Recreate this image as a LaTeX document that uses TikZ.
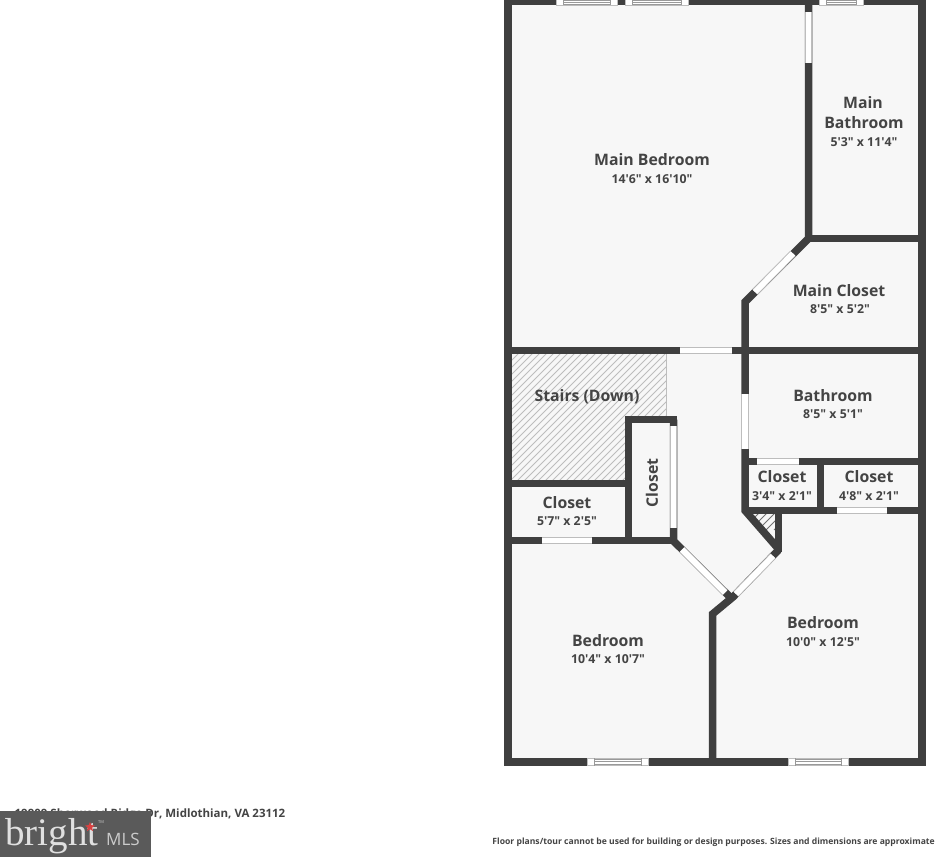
\documentclass[tikz,border=0pt]{standalone}
\usepackage{fontspec}
\setmainfont{Open Sans}[Ligatures=TeXOff]
\usetikzlibrary{shapes.geometric}
\definecolor{wallc}{HTML}{3F3F3F}
\definecolor{roomc}{HTML}{F7F7F7}
\definecolor{edgec}{HTML}{BDBDBD}
\definecolor{txtc}{HTML}{444444}
\definecolor{logoc}{HTML}{5A5A5A}
\tikzset{
  wall/.style={draw=wallc,line width=7.5pt,line join=miter},
  edgeline/.style={draw=edgec,line width=7.6pt},
  doorfill/.style={draw=white,line width=5.8pt},
  roomname/.style={font=\bfseries\fontsize{15.8}{18}\selectfont,text=txtc,inner sep=0pt,yshift=-0.7pt},
  roomsize/.style={font=\bfseries\fontsize{12.3}{14}\selectfont,text=txtc,inner sep=0pt,yshift=-0.7pt},
  foot/.style={font=\bfseries\fontsize{8.6}{12}\selectfont,text=txtc,inner sep=0pt},
  hatchline/.style={draw=edgec,line width=0.8pt},
  winline/.style={draw=black!40,line width=0.7pt}
}
\newcommand{\doorway}[2]{\path[edgeline] #1 -- #2; \path[doorfill] #1 -- #2;}
% horizontal window: x1 x2 ytop ybottom
\newcommand{\winh}[4]{%
  \fill[white] (#1,#3) rectangle (#2,#4);
  \draw[draw=edgec,line width=0.6pt] (#1,#3) rectangle (#2,#4);
  \draw[winline] (#1+7,#3) -- (#1+7,#4) (#2-7,#3) -- (#2-7,#4);
  \draw[winline] (#1+7,{(#3+#4)/2}) -- (#2-7,{(#3+#4)/2});
  \draw[winline] (#1+7,#3+1) -- (#2-7,#3+1) (#1+7,#4-1) -- (#2-7,#4-1);
}
\begin{document}
\begin{tikzpicture}[x=1pt,y=-1pt]
\useasboundingbox (0,0) rectangle (935,857);
\fill[white] (0,0) rectangle (935,857);
% floor
\fill[roomc] (508,1) rectangle (922,762);
% stairs hatch
\begin{scope}
\clip (511,354) -- (666,354) -- (666,419) -- (628,419) -- (628,480) -- (511,480) -- cycle;
\foreach \k in {0,7,...,320}{\draw[hatchline] (365+\k,486) -- (365+\k+140,346);}
\end{scope}
\draw[edgec,line width=0.7pt] (666,354) -- (666,419);
% small hatched triangle
\begin{scope}
\clip (745,510) -- (778,510) -- (778,550) -- cycle;
\foreach \k in {0,8,...,48}{\draw[edgec!60!black,line width=0.8pt] (742+\k,530) -- (742+\k+20,510);}
\end{scope}
% walls
\draw[wall] (508,1) rectangle (922,762);
\draw[wall] (808.5,1) -- (808.5,238.5) -- (745,302) -- (745,350.5);
\draw[wall] (808.5,238.5) -- (922,238.5);
\draw[wall] (508,350.5) -- (922,350.5);
\draw[wall] (745,350.5) -- (745,510.5) -- (778.5,549);
\draw[wall] (745,461.5) -- (922,461.5);
\draw[wall] (745,510.5) -- (922,510.5);
\draw[wall] (820.5,461.5) -- (820.5,510.5);
\draw[wall] (778.5,510.5) -- (778.5,552);
\draw[wall] (508,483.5) -- (628.5,483.5);
\draw[wall] (677,419.5) -- (628.5,419.5) -- (628.5,540.5);
\draw[wall] (508,540.5) -- (673.5,540.5);
\draw[wall] (673.5,419.5) -- (673.5,541) -- (730,597);
\draw[wall] (712.5,762) -- (712.5,614) -- (733,597) -- (778.5,550);
% doors
\doorway{(808.5,12)}{(808.5,63)}
\doorway{(793,253.5)}{(755,292)}
\doorway{(680,350.5)}{(732,350.5)}
\doorway{(745,394)}{(745,449)}
\doorway{(757,461.5)}{(799,461.5)}
\doorway{(837,510.5)}{(887,510.5)}
\doorway{(542,540.5)}{(592,540.5)}
\doorway{(673.5,426)}{(673.5,528)}
\doorway{(682,549.5)}{(725,592.5)}
\doorway{(736,594)}{(773,556)}
% windows
\winh{556}{617}{-1}{5}
\winh{625}{688}{-1}{5}
\winh{819}{863}{-1}{5}
\winh{587}{648}{758}{765.5}
\winh{788}{848}{758}{765.5}
% labels
\node[roomname] (n1) at (652,159) {Main Bedroom};
\node[roomsize] (s1) at (652,178) {14'6" x 16'10"};
\node[roomname] (n2) at (863,102) {Main};
\node[roomname] (n3) at (864,122) {Bathroom};
\node[roomsize] (s3) at (864,141) {5'3" x 11'4"};
\node[roomname] (n4) at (839,290) {Main Closet};
\node[roomsize] (s4) at (840,308) {8'5" x 5'2"};
\node[roomname] (n5) at (833,395) {Bathroom};
\node[roomsize] (s5) at (833,413) {8'5" x 5'1"};
\node[roomname] (n6) at (587,396) {Stairs (Down)};
\node[roomname,rotate=90] (n7) at (652,482) {Closet};
\node[roomname] (n8) at (782,476) {Closet};
\node[roomsize] (s8) at (782,495) {3'4" x 2'1"};
\node[roomname] (n9) at (869,476) {Closet};
\node[roomsize] (s9) at (869,495) {4'8" x 2'1"};
\node[roomname] (n10) at (567,502) {Closet};
\node[roomsize] (s10) at (567,520) {5'7" x 2'5"};
\node[roomname] (n11) at (608,640) {Bedroom};
\node[roomsize] (s11) at (608,658) {10'4" x 10'7"};
\node[roomname] (n12) at (823,622) {Bedroom};
\node[roomsize] (s12) at (823,641) {10'0" x 12'5"};
% footer
\node[foot,anchor=east,font=\bfseries\fontsize{11.5}{14}\selectfont] (addr) at (285.5,814.5) {19909 Sherwood Ridge Dr, Midlothian, VA 23112};
\node[foot,anchor=east] (disc) at (935,842.5) {Floor plans/tour cannot be used for building or design purposes. Sizes and dimensions are approximate};
% logo
\fill[logoc] (0,811) rectangle (151,857);
\node[inner sep=0pt,anchor=base west,text=white!88!black,font=\fontspec{Liberation Serif}\fontsize{39}{44}\selectfont] (lg) at (5,845) {bright};
\node[inner sep=0pt,anchor=base west,text=white!80!black,font=\fontsize{17}{20}\selectfont] (ml) at (106,845) {MLS};
\node[star,star points=5,star point ratio=2.2,fill=red!70!white!85!black,inner sep=0pt,minimum size=10pt] (st) at (90,827) {};
\node[inner sep=0pt,text=white!80!black,font=\fontsize{4}{5}\selectfont] (tm) at (101,822) {TM};
\end{tikzpicture}
\end{document}
